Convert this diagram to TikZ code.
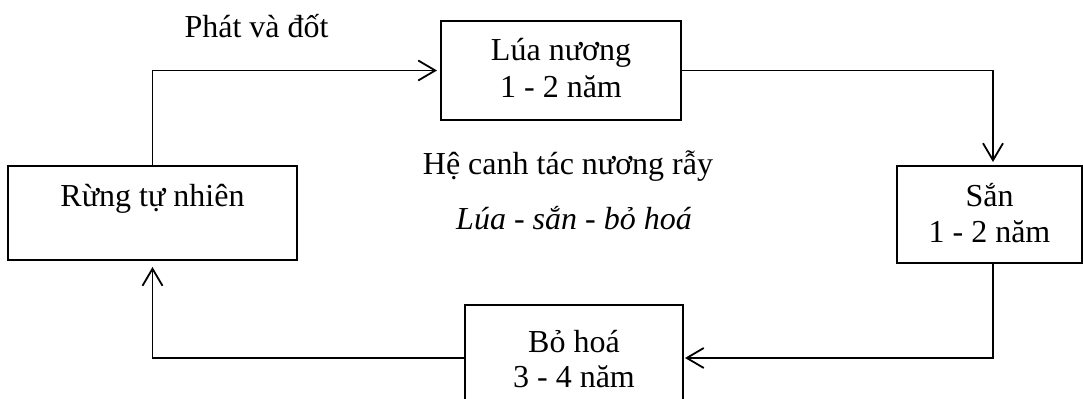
\documentclass[tikz,border=0pt]{standalone}
\usepackage{fontspec}
\setmainfont{Liberation Serif}
\usetikzlibrary{arrows.meta}
\begin{document}
\begin{tikzpicture}[x=0.5pt,y=-0.5pt,
  box/.style={draw, line width=0.9pt, inner sep=0pt, outer sep=0pt},
  txt/.style={anchor=base, inner sep=0pt, font=\fontsize{16}{19}\selectfont},
  arr/.style={line width=0.9pt, -{Straight Barb[length=8.5pt,width=10pt,line width=0.9pt]}}]
\useasboundingbox (0,0) rectangle (1083,399);
\clip (0,0) rectangle (1083,399);
% boxes
\node[box, minimum width=144.5pt, minimum height=47pt] (rung) at (152.5,213) {};
\node[box, minimum width=120pt, minimum height=49.5pt] (lua) at (561,70.5) {};
\node[box, minimum width=92.5pt, minimum height=48.5pt] (san) at (989.5,214.5) {};
\node[box, minimum width=109pt, minimum height=53pt] (bo) at (574,358) {};
% texts
\node[txt] (trung) at (152.5,207) {Rừng tự nhiên};
\node[txt] (tlua1) at (561,61) {Lúa nương};
\node[txt] (tlua2) at (561,98) {1 - 2 năm};
\node[txt] (tsan1) at (989.5,207) {Sắn};
\node[txt] (tsan2) at (989.5,243) {1 - 2 năm};
\node[txt] (tbo1) at (574,353) {Bỏ hoá};
\node[txt] (tbo2) at (574,388) {3 - 4 năm};
\node[txt] (tphat) at (256.5,38) {Phát và đốt};
\node[txt] (the) at (568,175) {Hệ canh tác nương rẫy};
\node[txt] (tcycle) at (574,230) {\itshape Lúa - sắn - bỏ hoá};
% connectors
\draw[arr, shorten >=2pt] (rung.north) |- (lua.west);
\draw[arr, shorten >=2pt] (lua.east) -| ([xshift=1.75pt]san.north);
\draw[arr, shorten >=1pt] ([xshift=1.75pt]san.south) |- (bo.east);
\draw[arr, shorten >=3.5pt] (bo.west) -| (rung.south);
\end{tikzpicture}
\end{document}
